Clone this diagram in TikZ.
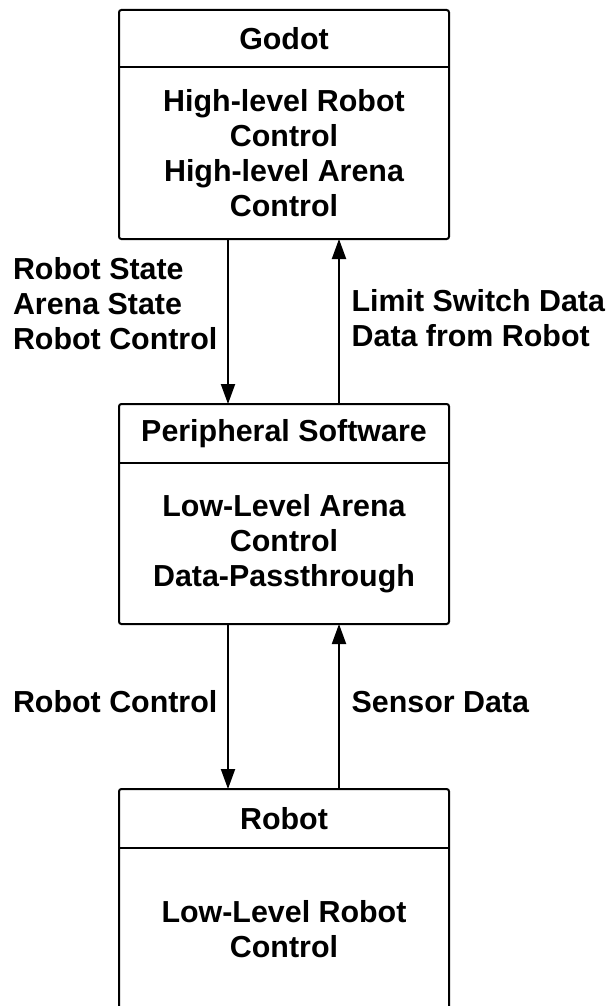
\documentclass[tikz,border=0pt]{standalone}
\usepackage{fontspec}
\setmainfont{Liberation Sans}
\usetikzlibrary{positioning,arrows.meta}
\begin{document}
\begin{tikzpicture}[x=0.5pt, y=-0.5pt, font=\bfseries\fontsize{15.2}{17.5}\selectfont,
  head/.style={minimum width=165pt, inner sep=0pt, outer sep=0pt, align=center},
  body/.style={minimum width=165pt, inner sep=0pt, outer sep=0pt, align=center},
  frame/.style={draw, line width=1pt, rounded corners=1.2pt},
  flow/.style={line width=1pt, -{Triangle[length=10pt, width=7pt]}}]
\useasboundingbox (0,0) rectangle (607,1006);
\clip (0,0) rectangle (607,1006);
% boxes
\node[head, minimum height=28.5pt] (godot) at (284,38.5) {Godot};
\node[body, minimum height=86pt, below=0pt of godot] (godotbody) {High-level Robot\\Control\\High-level Arena\\Control};
\node[head, minimum height=29.5pt] (periph) at (284,433.5) {Peripheral Software};
\node[body, minimum height=80.5pt, below=0pt of periph] (periphbody) {Low-Level Arena\\Control\\Data-Passthrough};
\node[head, minimum height=29.5pt] (robot) at (284,818.5) {Robot};
\node[body, minimum height=81pt, below=0pt of robot] (robotbody) {Low-Level Robot\\Control};
\draw[frame] (godot.north west) rectangle (godotbody.south east);
\draw[frame] (periph.north west) rectangle (periphbody.south east);
\draw[frame] (robot.north west) rectangle (robotbody.south east);
\draw[line width=1pt] (godot.south west) -- (godot.south east);
\draw[line width=1pt] (periph.south west) -- (periph.south east);
\draw[line width=1pt] (robot.south west) -- (robot.south east);
% arrows
\draw[flow] ([xshift=-28pt]godotbody.south) -- ([xshift=-28pt]periph.north)
  node[pos=0.39, left, align=left, xshift=-1.5pt] (downlbl) {Robot State\\Arena State\\Robot Control};
\draw[flow] ([xshift=27.5pt]periph.north) -- ([xshift=27.5pt]godotbody.south)
  node[pos=0.52, right, align=left, xshift=2.5pt] (uplbl) {Limit Switch Data\\Data from Robot};
\draw[flow] ([xshift=-28pt]periphbody.south) -- ([xshift=-28pt]robot.north)
  node[pos=0.47, left, align=left, xshift=-1.5pt] (ctrllbl) {Robot Control};
\draw[flow] ([xshift=27.5pt]robot.north) -- ([xshift=27.5pt]periphbody.south)
  node[pos=0.53, right, align=left, xshift=2.5pt] (senslbl) {Sensor Data};
\end{tikzpicture}
\end{document}
